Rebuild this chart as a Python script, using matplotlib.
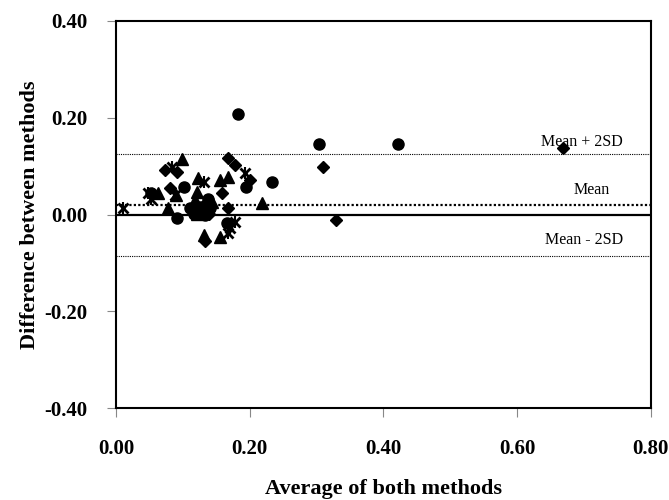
import matplotlib
matplotlib.use("Agg")
import matplotlib.pyplot as plt

# Bland-Altman style plot: average vs difference, four groups of samples
circle_x = [0.183, 0.234, 0.195, 0.101, 0.091, 0.138, 0.111, 0.126, 0.141,
            0.133, 0.304, 0.421, 0.053, 0.166, 0.116]
circle_y = [0.207, 0.068, 0.057, 0.057, -0.008, 0.033, 0.013, 0.016, 0.013,
            -0.001, 0.145, 0.145, 0.044, -0.018, 0.002]

diamond_x = [0.073, 0.091, 0.168, 0.178, 0.200, 0.081, 0.158, 0.131, 0.168,
             0.133, 0.668, 0.310, 0.329, 0.139]
diamond_y = [0.092, 0.088, 0.116, 0.102, 0.072, 0.054, 0.044, 0.020, 0.013,
             -0.055, 0.138, 0.099, -0.011, 0.002]

triangle_x = [0.098, 0.063, 0.123, 0.156, 0.168, 0.121, 0.118, 0.121, 0.143,
              0.078, 0.131, 0.156, 0.218, 0.090]
triangle_y = [0.115, 0.044, 0.075, 0.071, 0.078, 0.046, 0.030, 0.002, 0.026,
              0.013, -0.042, -0.046, 0.023, 0.040]

star_x = [0.083, 0.131, 0.193, 0.048, 0.053, 0.088, 0.011, 0.178, 0.168, 0.170]
star_y = [0.099, 0.068, 0.085, 0.044, 0.033, 0.040, 0.013, -0.015, -0.039, -0.028]

mean_diff = 0.02
upper_loa = 0.125
lower_loa = -0.085

plt.rcParams['font.family'] = ['Liberation Serif', 'DejaVu Serif']

fig = plt.figure(figsize=(6.69, 5.0), dpi=100)
ax = fig.add_axes([0.1734, 0.184, 0.7996, 0.774])

# reference lines
ax.axhline(0, color='black', lw=1.6, zorder=1)
ax.axhline(mean_diff, color='black', lw=1.6, ls=(0, (1, 1)), zorder=1)
ax.axhline(upper_loa, color='black', lw=0.8, ls=(0, (1, 1)), zorder=1)
ax.axhline(lower_loa, color='black', lw=0.8, ls=(0, (1, 1)), zorder=1)

ax.plot(circle_x, circle_y, 'o', color='black', ms=8, ls='none', zorder=3)
ax.plot(diamond_x, diamond_y, 'D', color='black', ms=6.5, ls='none', zorder=3)
ax.plot(triangle_x, triangle_y, '^', color='black', ms=8.5, ls='none', zorder=3)
ax.plot(star_x, star_y, 'x', color='black', ms=7, mew=2, ls='none', zorder=3)
ax.plot(star_x, star_y, '|', color='black', ms=8, mew=1.5, ls='none', zorder=3)

ax.text(0.758, 0.15, 'Mean + 2SD', ha='right', va='center', fontsize=11.5)
ax.text(0.739, 0.051, 'Mean', ha='right', va='center', fontsize=11.5)
ax.text(0.758, -0.053, 'Mean - 2SD', ha='right', va='center', fontsize=11.5)

ax.set_xlim(0, 0.8)
ax.set_ylim(-0.4, 0.4)
ax.set_xticks([0, 0.2, 0.4, 0.6, 0.8])
ax.set_yticks([-0.4, -0.2, 0, 0.2, 0.4])
ax.set_xticklabels(['0.00', '0.20', '0.40', '0.60', '0.80'],
                   fontsize=15, fontweight='bold')
ax.set_yticklabels(['-0.40', '-0.20', '0.00', '0.20', '0.40'],
                   fontsize=15, fontweight='bold')
ax.tick_params(direction='out', length=6.5, width=0.8, color='#888888')
ax.tick_params(axis='x', pad=16)
ax.tick_params(axis='y', pad=14)
for s in ax.spines.values():
    s.set_linewidth(1.5)

ax.set_xlabel('Average of both methods', fontsize=16, fontweight='bold',
              labelpad=14)
ax.set_ylabel('Difference between methods', fontsize=16, fontweight='bold',
              labelpad=3)

fig.savefig('out.png', dpi=100)
